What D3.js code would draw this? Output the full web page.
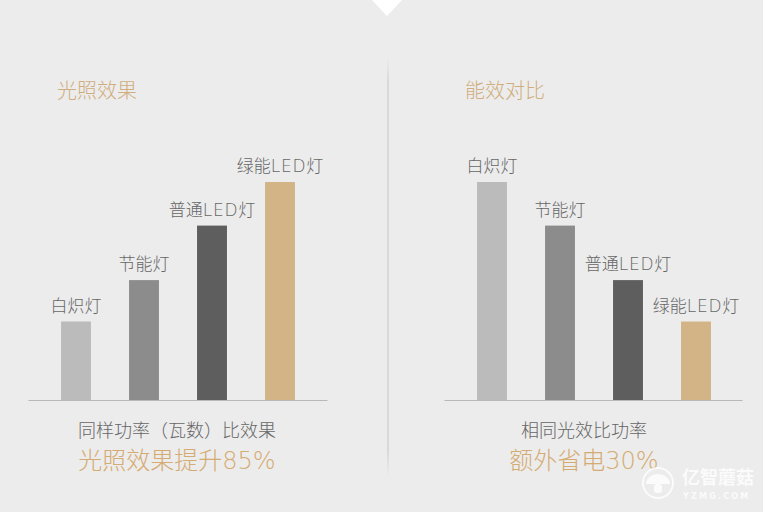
<!DOCTYPE html>
<html>
<head>
<meta charset="utf-8">
<script src="https://cdn.jsdelivr.net/npm/d3@7"></script>
<style>
  html, body { margin: 0; padding: 0; background: #ececec; }
  svg { display: block; }
  text { font-family: "Noto Sans CJK SC", "Noto Sans", sans-serif; font-weight: 300; }
</style>
</head>
<body>
<svg id="chart" width="763" height="512"></svg>
<script>
// ---- data ----
const leftCategories = ["白炽灯", "节能灯", "普通LED灯", "绿能LED灯"];
const leftValues = [36, 55, 80, 100];          // 光照效果 (relative)
const rightCategories = ["白炽灯", "节能灯", "普通LED灯", "绿能LED灯"];
const rightValues = [100, 80, 55, 36];         // 能效对比 (relative power)
const barColors = ["#bbbbbb", "#8c8c8c", "#5e5e5e", "#d2b487"];
const titles = ["光照效果", "能效对比"];
const captions = ["同样功率（瓦数）比效果", "相同光效比功率"];
const highlights = ["光照效果提升85%", "额外省电30%"];

const W = 763, H = 512;
const svg = d3.select("#chart");

// write text splitting latin/digit runs into a wider font
function richText(sel, str, latinSpacing) {
  const parts = str.split(/([A-Za-z0-9%.]+)/).filter(s => s.length);
  parts.forEach(s => {
    const t = sel.append("tspan").text(s);
    if (/^[A-Za-z0-9%.]+$/.test(s)) {
      t.attr("font-family", "DejaVu Sans").attr("font-weight", 200);
      if (latinSpacing) t.attr("letter-spacing", latinSpacing);
    }
  });
}

// background
svg.append("rect").attr("width", W).attr("height", H).attr("fill", "#ececec");

// top notch triangle
svg.append("path")
  .attr("d", d3.line()([[372, 0], [402, 0], [387, 16]]) + "Z")
  .attr("fill", "#ffffff");

// vertical divider with faded ends
const defs = svg.append("defs");
const grad = defs.append("linearGradient").attr("id", "divGrad")
  .attr("x1", 0).attr("y1", 0).attr("x2", 0).attr("y2", 1);
grad.append("stop").attr("offset", "0%").attr("stop-color", "#c4c4c4").attr("stop-opacity", 0);
grad.append("stop").attr("offset", "6%").attr("stop-color", "#c4c4c4").attr("stop-opacity", 1);
grad.append("stop").attr("offset", "94%").attr("stop-color", "#c4c4c4").attr("stop-opacity", 1);
grad.append("stop").attr("offset", "100%").attr("stop-color", "#c4c4c4").attr("stop-opacity", 0);
svg.append("rect").attr("x", 387.5).attr("y", 58).attr("width", 1).attr("height", 418)
  .attr("fill", "url(#divGrad)");

const y = d3.scaleLinear().domain([0, 100]).range([400, 182]);

const panels = [
  { cats: leftCategories, vals: leftValues, bandRange: [42, 314], axis: [28, 327],
    titleX: 57, textX: 177, title: titles[0], cap: captions[0], hi: highlights[0] },
  { cats: rightCategories, vals: rightValues, bandRange: [458, 730], axis: [444, 742],
    titleX: 465, textX: 584, title: titles[1], cap: captions[1], hi: highlights[1] }
];

panels.forEach(p => {
  const g = svg.append("g");
  const x = d3.scaleBand().domain(p.cats).range(p.bandRange).paddingInner(0.56).paddingOuter(0.28);
  const data = p.cats.map((c, i) => ({ c, v: p.vals[i], color: barColors[i] }));

  // title
  g.append("text").attr("x", p.titleX).attr("y", 98)
    .attr("font-size", 20).attr("fill", "#d0ad7c").text(p.title);

  // bars
  g.selectAll("rect.bar").data(data).join("rect")
    .attr("class", "bar")
    .attr("x", d => x(d.c))
    .attr("width", x.bandwidth())
    .attr("y", d => y(d.v))
    .attr("height", d => y(0) - y(d.v))
    .attr("fill", d => d.color);

  // bar labels
  g.selectAll("text.lbl").data(data).join("text")
    .attr("class", "lbl")
    .attr("x", d => x(d.c) + x.bandwidth() / 2)
    .attr("y", d => y(d.v) - 10)
    .attr("text-anchor", "middle")
    .attr("font-size", 17)
    .attr("fill", "#666666")
    .each(function(d) { richText(d3.select(this), d.c, 0.8); });

  // baseline axis
  const axisScale = d3.scaleLinear().domain([0, 1]).range(p.axis);
  const ax = g.append("g").attr("transform", `translate(0,${y(0)})`)
    .call(d3.axisBottom(axisScale).ticks(0).tickSize(0).tickFormat(""));
  ax.select(".domain").attr("stroke", "#b8b8b8").attr("stroke-width", 1);

  // captions
  g.append("text").attr("x", p.textX).attr("y", 437)
    .attr("text-anchor", "middle").attr("font-size", 18).attr("fill", "#666666")
    .text(p.cap);
  const hi = g.append("text").attr("x", p.textX).attr("y", 469)
    .attr("text-anchor", "middle").attr("font-size", 24).attr("fill", "#d4ab72");
  richText(hi, p.hi, 0);
});

// watermark
const wm = svg.append("g").attr("opacity", 0.8);
wm.append("circle").attr("cx", 658).attr("cy", 483).attr("r", 15)
  .attr("fill", "none").attr("stroke", "#ffffff").attr("stroke-width", 2);
wm.append("path")
  .attr("d", "M646,484 A12,10 0 0 1 670,484 Z")
  .attr("fill", "#ffffff");
wm.append("rect").attr("x", 654).attr("y", 484).attr("width", 8).attr("height", 9)
  .attr("rx", 3).attr("fill", "#ffffff");
wm.append("text").attr("x", 682).attr("y", 484)
  .attr("font-size", 18).style("font-weight", "bold").attr("fill", "#ffffff")
  .text("亿智蘑菇");
wm.append("text").attr("x", 683).attr("y", 499)
  .attr("font-size", 8).attr("letter-spacing", 2.2).attr("fill", "#ffffff")
  .style("font-family", "DejaVu Sans").style("font-weight", "bold")
  .text("YZMG.COM");
</script>
</body>
</html>
